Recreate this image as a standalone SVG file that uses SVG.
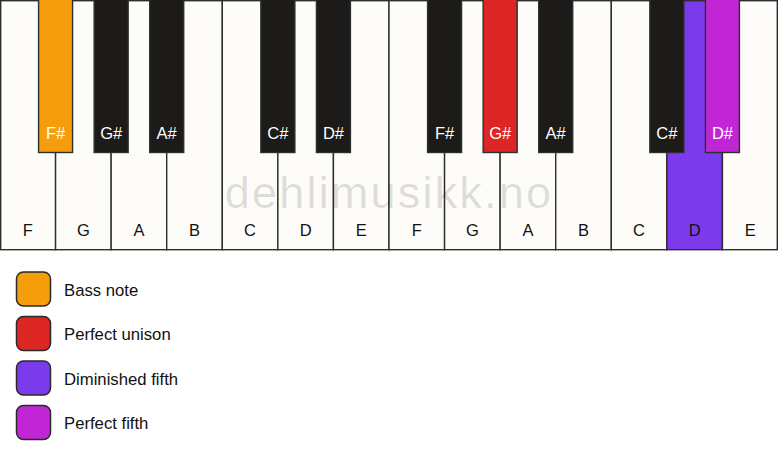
<svg xmlns="http://www.w3.org/2000/svg" width="778" height="461" viewBox="0 0 778 461">
<style>
.w{fill:#fdfcf9;stroke:#2e2e2e;stroke-width:1.4}
.b{fill:#1c1b19;stroke:#2e2e2e;stroke-width:1.4}
.lw{font-family:"Liberation Sans",Arial,sans-serif;font-size:16.5px;fill:#111;text-anchor:middle}
.lb{font-family:"Liberation Sans",Arial,sans-serif;font-size:16.5px;fill:#fff;text-anchor:middle}
.lg{font-family:"Liberation Sans",Arial,sans-serif;font-size:16.7px;fill:#111}
.sw{stroke:#2a2a2a;stroke-width:1.5}
</style>
<rect width="778" height="461" fill="#ffffff"/>
<g id="white-keys">
<g id="key-F1"><rect class="w" x="0.7" y="0.7" width="54.87" height="249"/><text class="lw" x="27.79" y="236">F</text></g>
<g id="key-G1"><rect class="w" x="55.57" y="0.7" width="55.57" height="249"/><text class="lw" x="83.36" y="236">G</text></g>
<g id="key-A1"><rect class="w" x="111.14" y="0.7" width="55.57" height="249"/><text class="lw" x="138.93" y="236">A</text></g>
<g id="key-B1"><rect class="w" x="166.71" y="0.7" width="55.57" height="249"/><text class="lw" x="194.5" y="236">B</text></g>
<g id="key-C1"><rect class="w" x="222.29" y="0.7" width="55.57" height="249"/><text class="lw" x="250.07" y="236">C</text></g>
<g id="key-D1"><rect class="w" x="277.86" y="0.7" width="55.57" height="249"/><text class="lw" x="305.64" y="236">D</text></g>
<g id="key-E1"><rect class="w" x="333.43" y="0.7" width="55.57" height="249"/><text class="lw" x="361.21" y="236">E</text></g>
<g id="key-F2"><rect class="w" x="389" y="0.7" width="55.57" height="249"/><text class="lw" x="416.79" y="236">F</text></g>
<g id="key-G2"><rect class="w" x="444.57" y="0.7" width="55.57" height="249"/><text class="lw" x="472.36" y="236">G</text></g>
<g id="key-A2"><rect class="w" x="500.14" y="0.7" width="55.57" height="249"/><text class="lw" x="527.93" y="236">A</text></g>
<g id="key-B2"><rect class="w" x="555.71" y="0.7" width="55.57" height="249"/><text class="lw" x="583.5" y="236">B</text></g>
<g id="key-C2"><rect class="w" x="611.29" y="0.7" width="55.57" height="249"/><text class="lw" x="639.07" y="236">C</text></g>
<g id="key-D2"><rect class="w" x="666.86" y="0.7" width="55.57" height="249" style="fill:#7c3aed"/><text class="lw" x="694.64" y="236">D</text></g>
<g id="key-E2"><rect class="w" x="722.43" y="0.7" width="54.87" height="249"/><text class="lw" x="750.21" y="236">E</text></g>
</g>
<text id="watermark" x="389" y="208" font-family="'Liberation Sans',Arial,sans-serif" font-size="45" letter-spacing="2.2" text-anchor="middle" fill="#000" fill-opacity="0.12">dehlimusikk.no</text>
<g id="black-keys">
<g id="key-Fs1"><rect class="b" x="38.57" y="-2" width="34" height="154.5" style="fill:#f59e0b"/><text class="lb" x="55.57" y="139">F#</text></g>
<g id="key-Gs1"><rect class="b" x="94.14" y="-2" width="34" height="154.5"/><text class="lb" x="111.14" y="139">G#</text></g>
<g id="key-As1"><rect class="b" x="149.71" y="-2" width="34" height="154.5"/><text class="lb" x="166.71" y="139">A#</text></g>
<g id="key-Cs1"><rect class="b" x="260.86" y="-2" width="34" height="154.5"/><text class="lb" x="277.86" y="139">C#</text></g>
<g id="key-Ds1"><rect class="b" x="316.43" y="-2" width="34" height="154.5"/><text class="lb" x="333.43" y="139">D#</text></g>
<g id="key-Fs2"><rect class="b" x="427.57" y="-2" width="34" height="154.5"/><text class="lb" x="444.57" y="139">F#</text></g>
<g id="key-Gs2"><rect class="b" x="483.14" y="-2" width="34" height="154.5" style="fill:#dc2626"/><text class="lb" x="500.14" y="139">G#</text></g>
<g id="key-As2"><rect class="b" x="538.71" y="-2" width="34" height="154.5"/><text class="lb" x="555.71" y="139">A#</text></g>
<g id="key-Cs2"><rect class="b" x="649.86" y="-2" width="34" height="154.5"/><text class="lb" x="666.86" y="139">C#</text></g>
<g id="key-Ds2"><rect class="b" x="705.43" y="-2" width="34" height="154.5" style="fill:#c026d3"/><text class="lb" x="722.43" y="139">D#</text></g>
</g>
<g id="legend">
<g id="legend-bass"><rect class="sw" x="16.5" y="272" width="34" height="34" rx="7" fill="#f59e0b"/><text class="lg" x="64" y="295.5">Bass note</text></g>
<g id="legend-unison"><rect class="sw" x="16.5" y="316.5" width="34" height="34" rx="7" fill="#dc2626"/><text class="lg" x="64" y="340">Perfect unison</text></g>
<g id="legend-dim5"><rect class="sw" x="16.5" y="361" width="34" height="34" rx="7" fill="#7c3aed"/><text class="lg" x="64" y="384.5">Diminished fifth</text></g>
<g id="legend-p5"><rect class="sw" x="16.5" y="405.5" width="34" height="34" rx="7" fill="#c026d3"/><text class="lg" x="64" y="429">Perfect fifth</text></g>
</g>
</svg>
